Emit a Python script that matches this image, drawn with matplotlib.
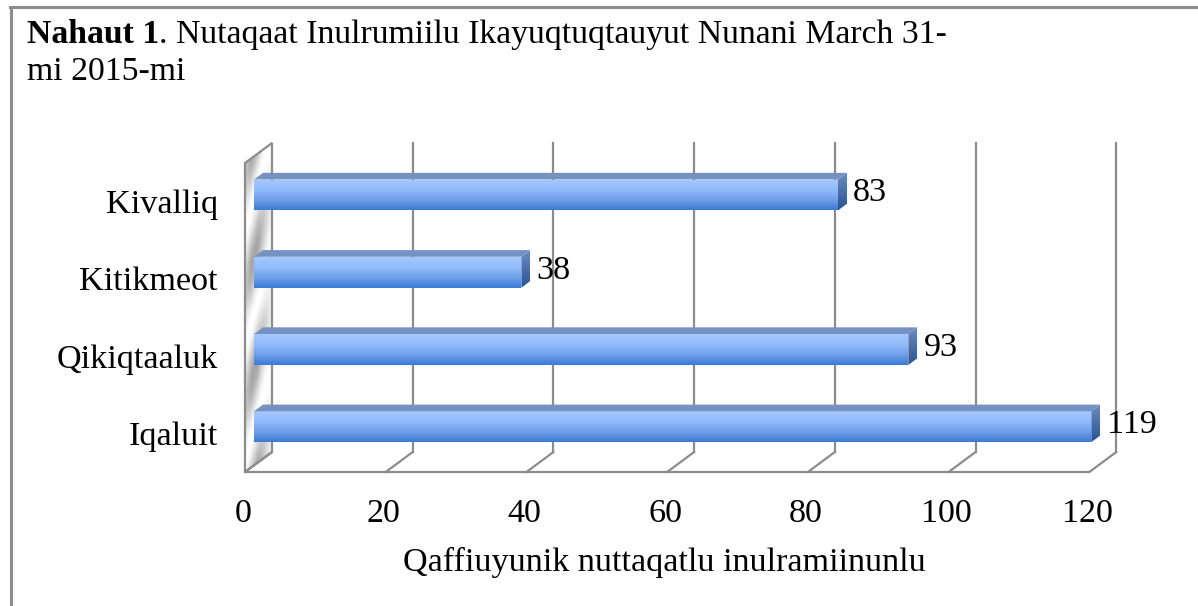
import matplotlib
matplotlib.use("Agg")
import matplotlib.pyplot as plt
from matplotlib.patches import Polygon
import numpy as np

# data
regions = ["Iqaluit", "Qikiqtaaluk", "Kitikmeot", "Kivalliq"]
counts = [119, 93, 38, 83]
ticks = [0, 20, 40, 60, 80, 100, 120]
title_bold = "Nahaut 1"
title_rest = ". Nutaqaat Inulrumiilu Ikayuqtuqtauyut Nunani March 31-"
title_line2 = "mi 2015-mi"
xlabel = "Qaffiuyunik nuttaqatlu inulramiinunlu"

plt.rcParams['font.family'] = ['Liberation Serif', 'DejaVu Serif']
FS = 24.6
TFS = 24.3

W, H = 1198, 606
fig = plt.figure(figsize=(W / 100, H / 100), dpi=100)
ax = fig.add_axes([0, 0, 1, 1])
ax.axis('off')

# pixel mapping of the front plane (x value 0 -> px 245, floor -> py 472)
SX = 7.036
SY = 77.25
x0px, floorpx = 245, 472
XL = (-x0px / SX, (W - x0px) / SX)
YL = ((floorpx - H) / SY - 0.5, floorpx / SY - 0.5)
DX = 27 / SX   # depth offset in value units
DY = 20 / SY   # depth offset in category units
ymin, ymax = -0.5, len(regions) - 0.5
xmax = ticks[-1]


def P(v, y, d):
    return (v + d * DX, y + d * DY)


def grad_fill(poly, colors):
    ax.add_patch(poly)
    xs, ys = zip(*poly.get_xy())
    cm = matplotlib.colors.LinearSegmentedColormap.from_list('g', colors)
    img = np.linspace(1, 0, 64).reshape(-1, 1)
    im = ax.imshow(img, cmap=cm, extent=(min(xs), max(xs), min(ys), max(ys)),
                   origin='upper', aspect='auto', zorder=poly.get_zorder(),
                   interpolation='bilinear')
    im.set_clip_path(poly)


gcol = '#8c8c8c'
lw = 1.6

# left wall
wall = Polygon([P(0, ymin, 0), P(0, ymax, 0), P(0, ymax, 1), P(0, ymin, 1)],
               closed=True, facecolor='none', edgecolor=gcol, lw=lw, zorder=2)
ax.add_patch(wall)
wall_fill = Polygon(wall.get_xy(), closed=True, facecolor='none', edgecolor='none', zorder=1)
ax.add_patch(wall_fill)
yy = np.linspace(0, 1, 200).reshape(-1, 1)
xx = np.linspace(0, 1, 20).reshape(1, -1)
wimg = 1.0 - 0.35 * (0.5 + 0.5 * np.sin(yy * 18 + xx * 5)) * np.clip(1.2 - 1.6 * np.abs(xx - 0.35), 0, 1)
xs, ys = zip(*wall.get_xy())
wim = ax.imshow(wimg, cmap='gray', vmin=0, vmax=1, extent=(min(xs), max(xs), min(ys), max(ys)),
                aspect='auto', zorder=1, interpolation='bilinear')
wim.set_clip_path(wall_fill)

# gridlines on back wall and floor
for t in ticks:
    if t > 0:
        ax.plot(*zip(P(t, ymin, 1), P(t, ymax, 1)), color=gcol, lw=lw, zorder=1)
    ax.plot(*zip(P(t, ymin, 0), P(t, ymin, 1)), color=gcol, lw=lw, zorder=1)
ax.plot(*zip(P(0, ymin, 0), P(xmax, ymin, 0)), color=gcol, lw=lw, zorder=1)

# bars
h = 0.2
for i, (name, v) in enumerate(zip(regions, counts)):
    front = Polygon([P(0, i - h, 1/3), P(v, i - h, 1/3), P(v, i + h, 1/3), P(0, i + h, 1/3)],
                    closed=True, facecolor='none', edgecolor='none', zorder=5)
    grad_fill(front, ['#3c7bd4', '#6f9fe8', '#92bbfb', '#a4c8ff'])
    top = Polygon([P(0, i + h, 1/3), P(v, i + h, 1/3), P(v, i + h, 2/3), P(0, i + h, 2/3)],
                  closed=True, facecolor='#7692c3', edgecolor='none', zorder=5)
    ax.add_patch(top)
    end = Polygon([P(v, i - h, 1/3), P(v, i + h, 1/3), P(v, i + h, 2/3), P(v, i - h, 2/3)],
                  closed=True, facecolor='none', edgecolor='none', zorder=5)
    grad_fill(end, ['#2c5390', '#4c6fa8', '#6f8cc0'])
    # value label
    ax.annotate(str(v), xy=P(v, i, 2/3), xytext=(4.5, -9.5), textcoords='offset points',
                ha='left', va='baseline', fontsize=FS, zorder=6)
    # category label
    ax.annotate(name, xy=P(0, i, 0), xytext=(-19.5, -8.2), textcoords='offset points',
                ha='right', va='baseline', fontsize=FS)

# tick labels
for t in ticks:
    ax.annotate(str(t), xy=P(t, ymin, 0), xytext=(-1.4, -36), textcoords='offset points',
                ha='center', va='baseline', fontsize=FS)

# axis title
ax.annotate(xlabel, xy=P(xmax / 2, ymin, 0), xytext=(-2, -71), textcoords='offset points',
            ha='center', va='baseline', fontsize=FS)

ax.set_xlim(*XL)
ax.set_ylim(*YL)

# frame around the chart (cut at right and bottom)
fig.add_artist(plt.Line2D([10 / W, 1], [1 - 7 / H, 1 - 7 / H], color='#8c8c8c', lw=2.2))
fig.add_artist(plt.Line2D([10.5 / W, 10.5 / W], [0, 1 - 7 / H], color='#8c8c8c', lw=2.2))

# title
tb = fig.text(27 / W, 1 - 43 / H, title_bold, fontsize=TFS, fontweight='bold',
              ha='left', va='baseline')
ax.annotate(title_rest, xy=(1, 0), xycoords=tb, ha='left', va='bottom', fontsize=TFS)
fig.text(27 / W, 1 - 80 / H, title_line2, fontsize=TFS, ha='left', va='baseline')

fig.savefig("out.png", dpi=100)
